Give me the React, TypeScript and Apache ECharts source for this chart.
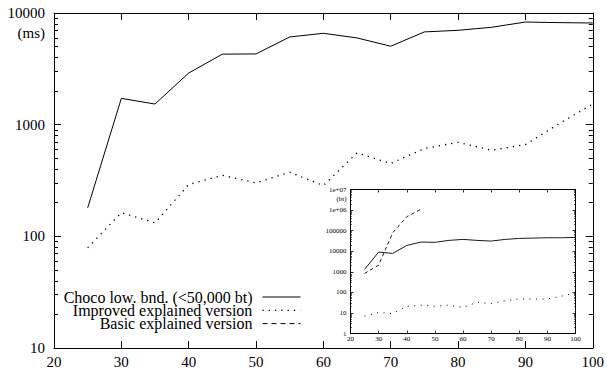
import React, { useEffect, useRef } from 'react';
import * as echarts from 'echarts';

const FONT = 'Liberation Serif';

// Problem sizes (x axis)
const xValues = [25, 30, 35, 40, 45, 50, 55, 60, 65, 70, 75, 80, 85, 90, 95, 100];
// Main chart: time in ms
const chocoMs = [180, 1720, 1530, 2900, 4280, 4300, 6100, 6580, 5980, 5040, 6770, 7000, 7450, 8300, 8200, 8140];
const improvedMs = [79, 163, 132, 291, 352, 301, 375, 285, 559, 449, 611, 695, 590, 663, 1020, 1530];
// Inset chart: backtracks
const chocoBt = [1300, 9060, 7820, 19100, 27800, 27000, 33600, 37500, 33600, 31100, 37500, 41900, 43500, 45200, 45200, 46900];
const improvedBt = [6.9, 10.5, 9.3, 21, 23.8, 21, 23.8, 18.3, 33, 28.7, 38.7, 48.4, 47, 48, 65, 95];
const basicX = [25, 30, 35, 40, 45];
const basicBt = [830, 2110, 79000, 475000, 1080000];

// Tick labels
const mainYTickLabels = ['10', '100', '1000', '10000'];
const insetYTickLabels = ['1', '10', '100', '1000', '10000', '100000', '1e+06', '1e+07'];
const seriesNames = ['Choco low. bnd. (<50,000 bt)', 'Improved explained version', 'Basic explained version'];

const pair = (xs: number[], ys: number[]) => xs.map((x, i) => [x, ys[i]]);

export default function App() {
  const ref = useRef<HTMLDivElement>(null);
  useEffect(() => {
    const chart = echarts.init(ref.current!, null, { renderer: 'svg' });
    const black = '#000';
    const mainX = (pos: 'bottom' | 'top', labels: boolean) => ({
      gridIndex: 0, type: 'value', min: 20, max: 100, interval: 10, position: pos,
      axisLine: { show: true, onZero: false, lineStyle: { color: black, width: 1 } },
      axisTick: { show: true, inside: true, length: 7, lineStyle: { color: black } },
      axisLabel: { show: labels, margin: 6, fontSize: 15, fontFamily: FONT, color: black },
      splitLine: { show: false },
    });
    const insetX = (pos: 'bottom' | 'top', labels: boolean) => ({
      gridIndex: 1, type: 'value', min: 20, max: 100, interval: 10, position: pos, z: 6,
      axisLine: { show: true, onZero: false, lineStyle: { color: black, width: 1 } },
      axisTick: { show: true, inside: true, length: 3, lineStyle: { color: black, width: 0.8 } },
      axisLabel: { show: labels, margin: 2, fontSize: 7, fontFamily: FONT, color: black },
      splitLine: { show: false },
    });
    const mainY = (pos: 'left' | 'right', labels: boolean) => ({
      gridIndex: 0, type: 'log', logBase: 10, min: 10, max: 10000, position: pos,
      axisLine: { show: true, onZero: false, lineStyle: { color: black, width: 1 } },
      axisTick: { show: true, inside: true, length: 7, lineStyle: { color: black } },
      minorTick: { show: true, splitNumber: 9, length: 4, lineStyle: { color: black } },
      axisLabel: {
        show: labels, margin: 9, fontSize: 15, fontFamily: FONT, color: black,
        formatter: (v: number) => mainYTickLabels[Math.round(Math.log10(v)) - 1] ?? String(v),
      },
      splitLine: { show: false }, minorSplitLine: { show: false },
      ...(labels ? {
        name: '(ms)', nameLocation: 'end', nameGap: -20,
        nameTextStyle: { align: 'right', verticalAlign: 'middle', padding: [0, 9, 0, 0], fontSize: 15, fontFamily: FONT, color: black },
      } : {}),
    });
    const insetY = (pos: 'left' | 'right', labels: boolean) => ({
      gridIndex: 1, type: 'log', logBase: 10, min: 1, max: 10000000, position: pos, z: 6,
      axisLine: { show: true, onZero: false, lineStyle: { color: black, width: 1 } },
      axisTick: { show: true, inside: true, length: 3, lineStyle: { color: black, width: 0.8 } },
      minorTick: { show: true, splitNumber: 9, length: 1.5, lineStyle: { color: black, width: 0.6 } },
      axisLabel: {
        show: labels, margin: 4, fontSize: 7, fontFamily: FONT, color: black,
        formatter: (v: number) => insetYTickLabels[Math.round(Math.log10(v))] ?? String(v),
      },
      splitLine: { show: false }, minorSplitLine: { show: false },
      ...(labels ? {
        name: '(bt)', nameLocation: 'end', nameGap: -9.5,
        nameTextStyle: { align: 'right', verticalAlign: 'middle', padding: [0, 4, 0, 0], fontSize: 7, fontFamily: FONT, color: black },
      } : {}),
    });
    const legendLine = [
      { color: black, width: 1, type: 'solid' },
      { color: black, width: 1.3, type: [1.3, 5] },
      { color: black, width: 1, type: [5, 4] },
    ];
    const option = {
      animation: false,
      backgroundColor: '#fff',
      color: [black, black, black, black, black],
      textStyle: { fontFamily: FONT, color: black },
      grid: [
        { left: 54, top: 13, width: 540, height: 336, show: false },
        { left: 350.5, top: 189.5, width: 225, height: 144, show: true, backgroundColor: '#fff', borderColor: black, borderWidth: 1, z: 5 },
      ],
      xAxis: [mainX('bottom', true), mainX('top', false), insetX('bottom', true), insetX('top', false)],
      yAxis: [mainY('left', true), mainY('right', false), insetY('left', true), insetY('right', false)],
      legend: seriesNames.map((name, i) => ({
        data: [name], orient: 'vertical', align: 'right', right: 306, top: 289 + i * 13.3,
        itemWidth: 38, itemHeight: 10, padding: 0, selectedMode: false,
        lineStyle: legendLine[i],
        itemStyle: { color: 'rgba(0,0,0,0)', borderWidth: 0, opacity: 0 },
        textStyle: { fontFamily: FONT, fontSize: 16, lineHeight: 13, color: black, padding: [0, 5, 0, 0] },
      })),
      series: [
        {
          name: seriesNames[0], type: 'line', xAxisIndex: 0, yAxisIndex: 0, symbol: 'none', z: 2,
          data: pair(xValues, chocoMs), lineStyle: { color: black, width: 1 },
        },
        {
          name: seriesNames[1], type: 'line', xAxisIndex: 0, yAxisIndex: 0, symbol: 'none', z: 2,
          data: pair(xValues, improvedMs), lineStyle: { color: black, width: 1.3, type: [1.3, 5] },
        },
        {
          name: seriesNames[0], type: 'line', xAxisIndex: 2, yAxisIndex: 2, symbol: 'none', z: 7,
          data: pair(xValues, chocoBt), lineStyle: { color: black, width: 0.9 },
        },
        {
          name: seriesNames[1], type: 'line', xAxisIndex: 2, yAxisIndex: 2, symbol: 'none', z: 7,
          data: pair(xValues, improvedBt), lineStyle: { color: black, width: 1, type: [1, 5.5] },
        },
        {
          name: seriesNames[2], type: 'line', xAxisIndex: 2, yAxisIndex: 2, symbol: 'none', z: 7,
          data: pair(basicX, basicBt), lineStyle: { color: black, width: 0.9, type: [3.5, 3] },
        },
      ],
    };
    chart.setOption(option as any);
    return () => chart.dispose();
  }, []);
  return <div ref={ref} style={{ position: 'absolute', left: 0, top: 0, width: 607, height: 369 }} />;
}
